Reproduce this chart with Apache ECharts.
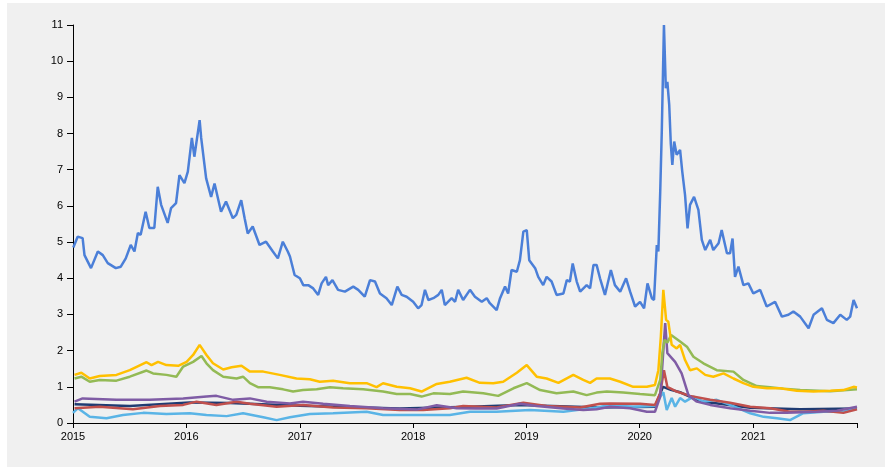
<!DOCTYPE html>
<html>
<head>
<meta charset="utf-8">
<script src="https://cdn.jsdelivr.net/npm/echarts@6/dist/echarts.min.js"></script>
<style>
  html, body { margin: 0; padding: 0; background: #fff; }
  #main { width: 885px; height: 467px; }
</style>
</head>
<body>
<div id="main"></div>
<script>
// series (date, value)
var blueDates = ['2015-01-02','2015-01-16','2015-02-01','2015-02-07','2015-02-28','2015-03-22','2015-04-07','2015-04-23','2015-05-19','2015-06-04','2015-06-20','2015-07-06','2015-07-18','2015-07-29','2015-08-07','2015-08-23','2015-09-04','2015-09-20','2015-10-01','2015-10-12','2015-11-02','2015-11-13','2015-11-29','2015-12-10','2015-12-26',
  '2016-01-06','2016-01-19','2016-01-27','2016-02-13','2016-02-18','2016-03-05','2016-03-21','2016-04-01','2016-04-22','2016-05-08','2016-05-30','2016-06-10','2016-06-26','2016-07-07','2016-07-17','2016-08-02','2016-08-24','2016-09-14','2016-10-06','2016-10-22','2016-11-07','2016-11-23','2016-11-30','2016-12-15',
  '2017-01-01','2017-01-12','2017-01-28','2017-02-13','2017-03-01','2017-03-12','2017-03-26','2017-04-02','2017-04-16','2017-05-04','2017-05-26','2017-06-22','2017-07-08','2017-07-29','2017-08-15','2017-08-31','2017-09-16','2017-10-07','2017-10-24','2017-11-11','2017-11-25','2017-12-11',
  '2018-01-01','2018-01-17','2018-01-28','2018-02-08','2018-02-19','2018-03-07','2018-03-23','2018-04-03','2018-04-13','2018-05-05','2018-05-16','2018-05-26','2018-06-11','2018-07-03','2018-07-19','2018-08-10','2018-08-26','2018-09-05','2018-09-27','2018-10-08','2018-10-24','2018-11-03','2018-11-14','2018-12-01','2018-12-11','2018-12-22',
  '2019-01-02','2019-01-10','2019-01-29','2019-02-08','2019-02-24','2019-03-07','2019-03-23','2019-04-08','2019-04-30','2019-05-11','2019-05-21','2019-05-30','2019-06-12','2019-06-23','2019-07-14','2019-07-25','2019-08-05','2019-08-15','2019-08-26','2019-09-11','2019-09-30','2019-10-13','2019-10-30','2019-11-18','2019-12-01','2019-12-17',
  '2020-01-02','2020-01-15','2020-01-26','2020-02-09','2020-02-16','2020-02-25','2020-03-01','2020-03-07','2020-03-12','2020-03-19','2020-03-25','2020-03-30','2020-04-05','2020-04-10','2020-04-15','2020-04-21','2020-04-29','2020-05-10','2020-05-17','2020-05-26','2020-06-03','2020-06-11','2020-06-24','2020-07-08','2020-07-19','2020-07-30','2020-08-15','2020-08-25','2020-09-11','2020-09-21','2020-10-08','2020-10-18','2020-10-26','2020-11-03','2020-11-14','2020-11-30','2020-12-16',
  '2021-01-01','2021-01-23','2021-02-13','2021-03-12','2021-04-03','2021-04-24','2021-05-10','2021-06-01','2021-06-28','2021-07-14','2021-08-10','2021-08-26','2021-09-16','2021-10-08','2021-10-29','2021-11-09','2021-11-20','2021-12-01'];
var blueValues = [4.85,5.15,5.11,4.64,4.28,4.74,4.64,4.42,4.28,4.32,4.55,4.92,4.74,5.25,5.20,5.84,5.39,5.39,6.53,6.03,5.53,5.94,6.08,6.85,6.63,
  6.95,7.88,7.36,8.37,7.88,6.76,6.25,6.62,5.84,6.12,5.66,5.75,6.16,5.66,5.24,5.43,4.92,5.01,4.74,4.55,5.01,4.74,4.60,4.09,
  4.00,3.81,3.81,3.72,3.54,3.86,4.04,3.81,3.95,3.68,3.63,3.77,3.68,3.49,3.95,3.91,3.58,3.45,3.26,3.77,3.54,3.49,
  3.35,3.17,3.26,3.68,3.40,3.45,3.54,3.68,3.26,3.45,3.35,3.68,3.40,3.68,3.49,3.35,3.45,3.31,3.12,3.45,3.77,3.58,4.23,4.18,4.50,5.29,
  5.33,4.50,4.28,4.04,3.81,4.04,3.91,3.54,3.58,3.95,3.91,4.41,3.91,3.63,3.81,3.72,4.37,4.37,4.00,3.54,4.23,3.81,3.63,4.00,3.63,3.22,
  3.35,3.17,3.86,3.45,3.40,4.92,4.74,6.39,8.05,11.0,9.25,9.43,8.79,7.73,7.13,7.78,7.41,7.55,6.95,6.30,5.38,6.03,6.25,5.89,5.06,4.78,5.06,4.78,4.97,5.33,4.69,4.69,5.10,4.04,4.32,3.81,3.86,
  3.58,3.68,3.22,3.35,2.94,2.99,3.08,2.94,2.62,2.99,3.17,2.85,2.76,2.99,2.85,2.94,3.40,3.17];

var yellowDates = ['2015-01-06','2015-01-28','2015-02-24','2015-03-28','2015-05-21','2015-07-03','2015-08-26','2015-09-11','2015-10-02','2015-10-29','2015-12-06',
  '2016-01-02','2016-01-23','2016-02-13','2016-03-06','2016-03-27','2016-04-29','2016-05-26','2016-06-27','2016-07-24','2016-09-05','2016-10-28','2016-12-21',
  '2017-02-02','2017-03-06','2017-04-18','2017-06-11','2017-08-04','2017-09-05','2017-09-26','2017-11-09','2017-12-22',
  '2018-01-28','2018-03-18','2018-04-29','2018-06-22','2018-08-04','2018-09-16','2018-10-18','2018-12-01',
  '2019-01-02','2019-02-03','2019-03-07','2019-04-14','2019-06-01','2019-07-03','2019-07-25','2019-08-15','2019-09-27','2019-10-30','2019-12-11',
  '2020-01-24','2020-02-19','2020-03-01','2020-03-09','2020-03-17','2020-03-26','2020-04-02','2020-04-13','2020-04-29','2020-05-10','2020-05-26','2020-06-11','2020-07-03','2020-07-30','2020-08-25','2020-09-27','2020-10-29','2020-11-30',
  '2021-01-01','2021-02-14','2021-03-28','2021-05-21','2021-07-14','2021-09-06','2021-10-18','2021-11-20','2021-12-01'];
var yellowValues = [1.33,1.39,1.23,1.30,1.33,1.46,1.68,1.60,1.69,1.60,1.58,
  1.69,1.88,2.16,1.88,1.65,1.48,1.54,1.58,1.42,1.42,1.33,1.23,
  1.21,1.14,1.17,1.10,1.10,0.99,1.10,1.00,0.96,
  0.87,1.08,1.14,1.25,1.11,1.10,1.14,1.39,
  1.60,1.28,1.23,1.11,1.33,1.19,1.11,1.23,1.23,1.14,1.00,
  1.00,1.05,1.46,2.39,3.68,2.85,2.80,2.16,2.06,2.16,1.74,1.46,1.51,1.33,1.28,1.37,1.23,1.10,
  1.00,0.96,0.96,0.89,0.87,0.89,0.91,1.00,0.98];

var greenDates = ['2015-01-06','2015-01-28','2015-02-24','2015-03-28','2015-05-21','2015-07-03','2015-08-26','2015-09-16','2015-10-29','2015-11-30','2015-12-22',
  '2016-01-23','2016-02-19','2016-03-06','2016-03-27','2016-04-29','2016-06-11','2016-07-02','2016-07-24','2016-08-19','2016-09-26','2016-11-08','2016-12-10',
  '2017-01-11','2017-02-24','2017-04-08','2017-05-20','2017-07-24','2017-09-26','2017-11-09','2017-12-22',
  '2018-01-28','2018-03-07','2018-04-29','2018-06-11','2018-08-15','2018-10-02','2018-11-20',
  '2019-01-02','2019-02-14','2019-04-08','2019-06-01','2019-07-14','2019-08-15','2019-09-17','2019-11-09',
  '2020-01-02','2020-02-19','2020-03-07','2020-03-14','2020-03-21','2020-03-30','2020-04-11','2020-05-10','2020-06-01','2020-06-22','2020-07-24','2020-09-05','2020-10-29','2020-11-30',
  '2021-01-12','2021-02-24','2021-04-08','2021-06-01','2021-09-06','2021-12-01'];
var greenValues = [1.23,1.28,1.14,1.19,1.17,1.28,1.45,1.37,1.33,1.28,1.56,
  1.69,1.85,1.65,1.46,1.28,1.23,1.28,1.10,0.99,0.99,0.93,0.87,
  0.91,0.93,0.99,0.96,0.93,0.87,0.80,0.80,
  0.73,0.82,0.80,0.87,0.82,0.75,0.96,
  1.10,0.91,0.82,0.87,0.77,0.84,0.87,0.84,
  0.80,0.77,1.19,1.95,2.30,2.22,2.43,2.25,2.11,1.83,1.65,1.46,1.42,1.19,
  1.02,0.99,0.95,0.91,0.88,0.93];

var purpleDates = ['2015-01-06','2015-02-01','2015-05-21','2015-09-05','2015-12-22',
  '2016-03-06','2016-04-07','2016-05-31','2016-07-24','2016-09-16','2016-11-30',
  '2017-01-11','2017-03-17','2017-06-11','2017-09-26',
  '2018-01-12','2018-03-18','2018-05-21','2018-07-25','2018-09-27','2018-12-11',
  '2019-02-03','2019-04-30','2019-07-03','2019-08-15','2019-09-27','2019-12-01',
  '2020-01-24','2020-02-19','2020-03-07','2020-03-23','2020-03-30','2020-04-24','2020-05-15','2020-06-06','2020-07-03','2020-08-15','2020-10-18','2020-12-22',
  '2021-02-24','2021-04-19','2021-07-25','2021-09-27','2021-12-01'];
var purpleValues = [0.59,0.68,0.64,0.64,0.68,
  0.73,0.75,0.64,0.68,0.59,0.54,
  0.59,0.53,0.47,0.41,
  0.37,0.49,0.41,0.40,0.40,0.53,
  0.47,0.40,0.36,0.38,0.45,0.41,
  0.31,0.31,0.73,2.76,1.93,1.69,1.37,0.77,0.59,0.50,0.41,0.34,
  0.28,0.28,0.31,0.34,0.45];

var redDates = ['2015-01-06','2015-03-28','2015-07-13','2015-10-08','2015-12-22',
  '2016-02-03','2016-04-07','2016-06-11','2016-07-24','2016-10-18',
  '2017-01-11','2017-04-18','2017-08-04','2017-11-19',
  '2018-02-02','2018-04-29','2018-06-11','2018-09-27','2018-12-22',
  '2019-03-07','2019-06-23','2019-08-26','2019-09-27',
  '2020-01-02','2020-02-19','2020-03-07','2020-03-19','2020-03-30','2020-04-29','2020-06-11','2020-08-15','2020-10-18','2020-12-22',
  '2021-02-24','2021-04-29','2021-06-11','2021-08-15','2021-10-18','2021-12-01'];
var redValues = [0.41,0.45,0.38,0.47,0.50,
  0.59,0.50,0.59,0.53,0.45,
  0.50,0.43,0.41,0.36,
  0.36,0.41,0.47,0.43,0.56,
  0.47,0.43,0.53,0.54,
  0.53,0.50,0.82,1.46,1.00,0.87,0.75,0.64,0.56,0.45,
  0.41,0.31,0.31,0.34,0.28,0.38];

var lightBlueDates = ['2015-01-01','2015-01-17','2015-02-24','2015-04-19','2015-06-11','2015-08-15','2015-10-29',
  '2016-01-12','2016-03-06','2016-05-10','2016-07-02','2016-09-05','2016-10-18','2016-11-30',
  '2017-02-02','2017-04-18','2017-08-04','2017-09-26',
  '2018-01-12','2018-04-29','2018-07-03','2018-09-27',
  '2019-01-12','2019-04-30','2019-08-15','2019-09-27','2019-12-11',
  '2020-02-19','2020-03-07','2020-03-17','2020-03-28','2020-04-13','2020-04-24','2020-05-10','2020-05-26','2020-06-22','2020-07-24','2020-09-05','2020-10-18','2020-12-22',
  '2021-02-03','2021-03-18','2021-04-29','2021-06-11','2021-08-15','2021-10-18','2021-12-01'];
var lightBlueValues = [0.28,0.41,0.17,0.13,0.22,0.28,0.25,
  0.27,0.22,0.19,0.27,0.16,0.08,0.16,
  0.25,0.27,0.31,0.22,
  0.22,0.22,0.31,0.31,
  0.36,0.31,0.43,0.50,0.45,
  0.47,0.73,0.85,0.36,0.69,0.45,0.69,0.59,0.73,0.59,0.64,0.50,0.27,
  0.17,0.13,0.08,0.27,0.31,0.31,0.41];

var navyDates = ['2015-01-06','2015-07-03','2016-01-12','2016-05-20','2017-01-01','2017-11-19','2018-07-03','2018-12-11','2019-08-26',
  '2020-02-19','2020-03-16','2020-04-10','2020-05-10','2020-07-14','2020-12-22','2021-06-01','2021-12-01'];
var navyValues = [0.52,0.47,0.57,0.55,0.48,0.40,0.45,0.50,0.43,
  0.45,1.00,0.92,0.85,0.60,0.42,0.38,0.40];

// x axis: yearly ticks, plus a closing tick at the last date
var xTicks = ['2015-01-01','2016-01-01','2017-01-01','2018-01-01','2019-01-01','2020-01-01','2021-01-01','2021-12-01'];
var yearTicks = [2015, 2016, 2017, 2018, 2019, 2020, 2021];

function pairs(dates, values) {
    return dates.map(function (d, i) { return [d, values[i]]; });
}

function line(name, color, dates, values) {
    return {
        name: name,
        type: 'line',
        showSymbol: false,
        data: pairs(dates, values),
        lineStyle: { color: color, width: 2.5 },
        itemStyle: { color: color }
    };
}

var myChart = echarts.init(document.getElementById('main'));

var option = {
    animation: false,
    backgroundColor: '#ffffff',
    graphic: [{
        type: 'rect',
        left: 7,
        top: 3,
        z: -10,
        silent: true,
        shape: { width: 878, height: 464 },
        style: { fill: '#f0f0f0' }
    }],
    grid: { left: 73, right: 28, top: 25, bottom: 44 },
    xAxis: {
        type: 'time',
        min: '2015-01-01',
        max: '2021-12-01',
        minInterval: 365 * 24 * 3600 * 1000,
        maxInterval: 366 * 24 * 3600 * 1000,
        splitLine: { show: false },
        axisLine: { lineStyle: { color: '#000', width: 1 } },
        axisTick: {
            show: true,
            length: 5,
            lineStyle: { color: '#000' },
            customValues: xTicks.map(function (d) { return +echarts.time.parse(d); })
        },
        axisLabel: {
            color: '#000',
            fontSize: 11,
            fontFamily: 'Liberation Sans',
            margin: 8,
            hideOverlap: false,
            formatter: function (val) {
                var d = new Date(val);
                if (d.getMonth() === 0 && d.getDate() === 1 && yearTicks.indexOf(d.getFullYear()) >= 0) {
                    return String(d.getFullYear());
                }
                return '';
            }
        }
    },
    yAxis: {
        type: 'value',
        min: 0,
        max: 11,
        interval: 1,
        splitLine: { show: false },
        axisLine: { show: true, lineStyle: { color: '#000', width: 1 } },
        axisTick: { show: true, length: 6, lineStyle: { color: '#000' } },
        axisLabel: { color: '#000', fontSize: 11, fontFamily: 'Liberation Sans', margin: 10 }
    },
    series: [
        line('navy', '#1f3b72', navyDates, navyValues),
        line('lightblue', '#5ab4e6', lightBlueDates, lightBlueValues),
        line('red', '#c0504d', redDates, redValues),
        line('purple', '#7f5ca5', purpleDates, purpleValues),
        line('green', '#93ba55', greenDates, greenValues),
        line('yellow', '#ffc000', yellowDates, yellowValues),
        line('blue', '#4b7fd8', blueDates, blueValues)
    ]
};

myChart.setOption(option);
</script>
</body>
</html>
